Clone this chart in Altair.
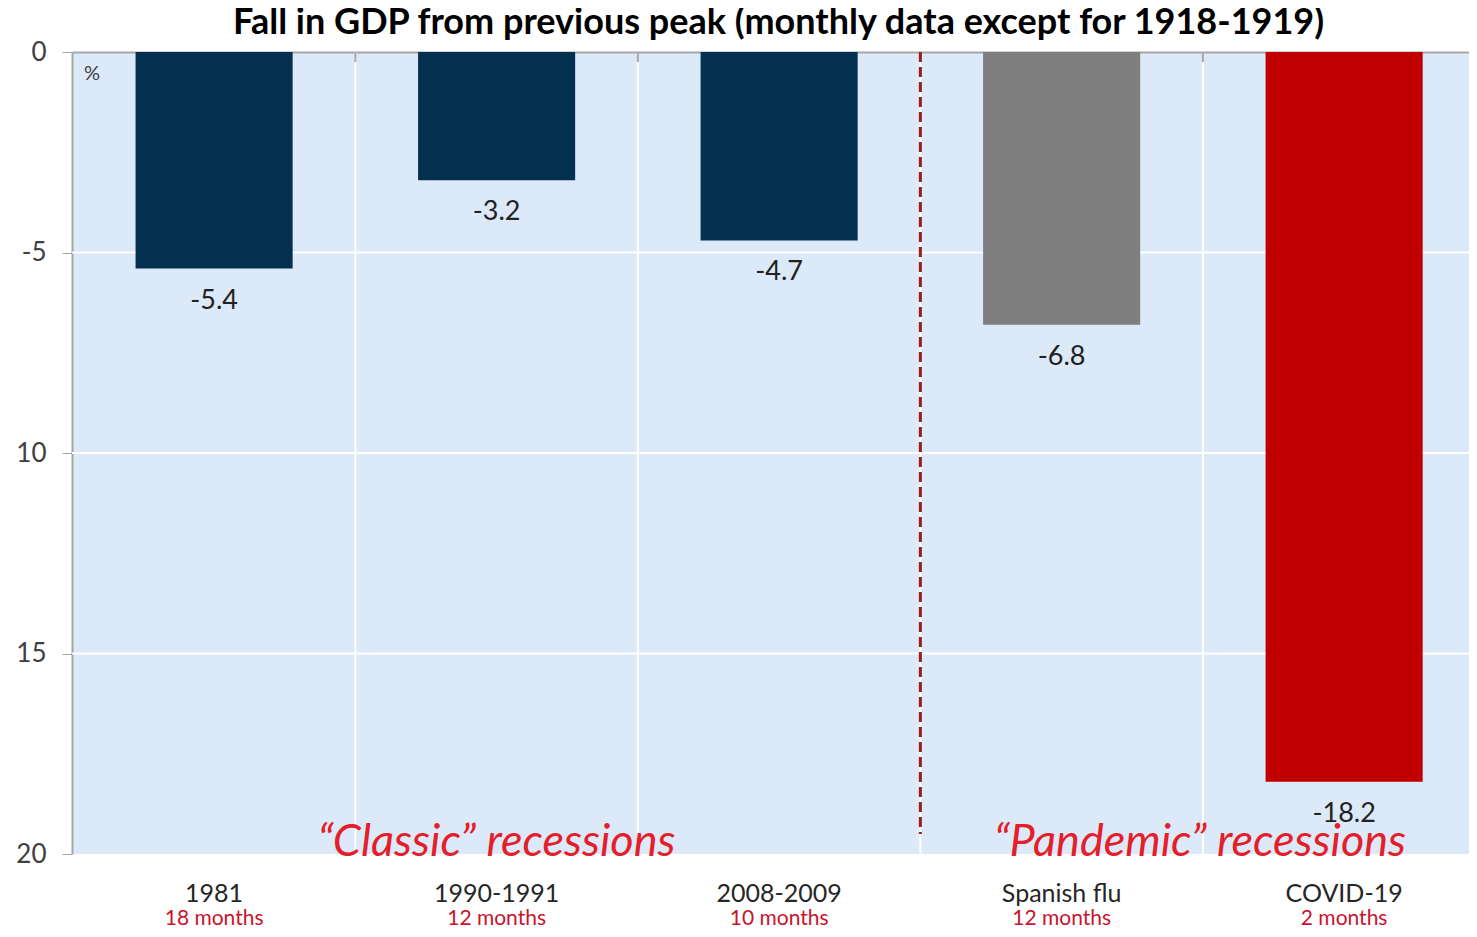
import altair as alt
import pandas as pd

categories = ["1981", "1990-1991", "2008-2009", "Spanish flu", "COVID-19"]
durations = ["18 months", "12 months", "10 months", "12 months", "2 months"]
values = [-5.4, -3.2, -4.7, -6.8, -18.2]
bar_colors = ["#03304f", "#03304f", "#03304f", "#7f7f7f", "#c00000"]
boundaries = [0.5, 1.5, 2.5, 3.5]
divider = [2.5]
group_labels = ["\u201cClassic\u201d recessions", "\u201cPandemic\u201d recessions"]
group_pos = [1.0, 3.49]
y_ticks = [0, -5, -10, -15, -20]

FONT = "Lato"
half = 0.278

df = pd.DataFrame({
    "idx": list(range(len(categories))),
    "cat": categories,
    "dur": durations,
    "val": values,
    "color": bar_colors,
})
df["x0"] = df["idx"] - half
df["x1"] = df["idx"] + half
df["lbl"] = df["val"].map(lambda v: f"{v:.1f}")

xs = alt.Scale(domain=[-0.503, 4.442], nice=False, zero=False)
ys = alt.Scale(domain=[-20, 0], nice=False)

base = alt.Chart(df)

bdf = pd.DataFrame({"b": boundaries, "t0": [0.0] * 4, "t1": [-0.25] * 4})

grid_v = alt.Chart(bdf).mark_rule(color="white", strokeWidth=2).encode(
    x=alt.X("b:Q", scale=xs), y=alt.value(0), y2=alt.value(802))

top_ticks = alt.Chart(bdf).mark_rule(color="#a6a6a6", strokeWidth=2).encode(
    x=alt.X("b:Q", scale=xs), y=alt.Y("t0:Q", scale=ys), y2="t1:Q")

grid_h = alt.Chart(pd.DataFrame({"t": [-5, -10, -15]})).mark_rule(
    color="white", strokeWidth=2
).encode(y=alt.Y("t:Q", scale=ys), x=alt.value(0), x2=alt.value(1397))

bars = base.mark_bar().encode(
    x=alt.X("x0:Q", scale=xs, axis=alt.Axis(
        orient="top", values=[0.5], labels=False, ticks=False, title=None,
        domainColor="#a6a6a6", domainWidth=2, grid=False)),
    x2="x1:Q",
    y=alt.Y("val:Q", scale=ys, axis=alt.Axis(
        values=y_ticks, title=None, grid=False,
        labelExpr="datum.value == -5 ? '-5' : '' + abs(datum.value)",
        labelFontSize=26, labelColor="#404040", labelFont=FONT,
        domainColor="#a6a6a6", domainWidth=2, tickColor="#a6a6a6", tickSize=10,
        labelPadding=16)),
    y2=alt.datum(0),
    color=alt.Color("color:N", scale=None),
)

val_text = base.mark_text(fontSize=27, font=FONT, color="#222222", baseline="middle", dy=32).encode(
    x=alt.X("idx:Q", scale=xs), y=alt.Y("val:Q", scale=ys), text="lbl:N"
)

cat_text = base.mark_text(fontSize=25, font=FONT, color="#262626", baseline="middle").encode(
    x=alt.X("idx:Q", scale=xs), y=alt.value(842), text="cat:N"
)
dur_text = base.mark_text(fontSize=21, font=FONT, color="#c8142c", baseline="middle").encode(
    x=alt.X("idx:Q", scale=xs), y=alt.value(867), text="dur:N"
)

div_rule = alt.Chart(pd.DataFrame({"d": divider, "y0": [0.0], "y1": [-19.5]})).mark_rule(
    color="#9b1c1c", strokeWidth=3, strokeDash=[10, 5]
).encode(x=alt.X("d:Q", scale=xs), y=alt.Y("y0:Q", scale=ys), y2="y1:Q")

grp_text = alt.Chart(pd.DataFrame({"g": group_labels, "p": group_pos, "yy": [-20, -20]})).mark_text(
    fontSize=45, font=FONT, fontStyle="italic", color="#e41e2b", baseline="alphabetic", dy=2
).encode(x=alt.X("p:Q", scale=xs), y=alt.Y("yy:Q", scale=ys), text="g:N")

pct = alt.Chart(pd.DataFrame({"t": ["%"]})).mark_text(
    fontSize=20, font=FONT, color="#404040", baseline="middle"
).encode(x=alt.value(20), y=alt.value(22), text="t:N")

chart = alt.layer(
    grid_v, grid_h, bars, top_ticks, val_text, div_rule, grp_text, pct, cat_text, dur_text
).properties(
    width=1397, height=802,
    background="white",
    title=alt.TitleParams(
        "Fall in GDP from previous peak (monthly data except for 1918-1919)",
        font=FONT, fontSize=36, fontWeight="bold", color="#000000", offset=-3, dx=8,
        anchor="middle"),
    autosize=alt.AutoSizeParams(type="none"),
    padding={"left": 64, "top": 44, "right": 0, "bottom": 75},
).configure_view(fill="#dce9f8", stroke=None)

chart.save("out.html", embed_options={"renderer": "svg", "actions": False})
